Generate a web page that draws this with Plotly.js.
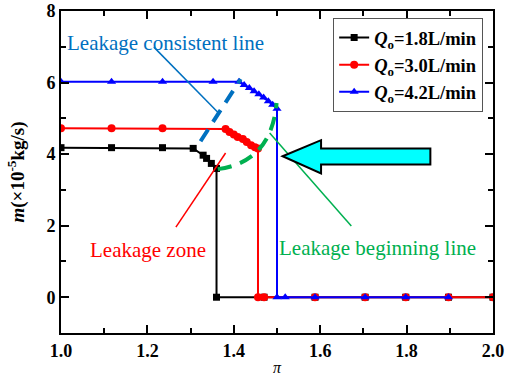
<!DOCTYPE html>
<html>
<head>
<meta charset="utf-8">
<script src="https://cdn.plot.ly/plotly-3.0.1.min.js"></script>
<style>html,body{margin:0;padding:0;background:#fff;}#chart{width:510px;height:379px;}</style>
</head>
<body>
<div id="chart"></div>
<script>
// Q_o = 1.8 L/min
const xBlack = [1.0, 1.117, 1.235, 1.306, 1.329, 1.337, 1.348, 1.36, 1.36, 1.47, 1.588, 1.704, 1.798, 1.897, 2.0];
const yBlack = [4.18, 4.18, 4.18, 4.16, 3.97, 3.88, 3.74, 3.6, 0, 0, 0, 0, 0, 0, 0];
// Q_o = 3.0 L/min
const xRed = [1.0, 1.117, 1.235, 1.381, 1.390, 1.400, 1.409, 1.421, 1.430, 1.440, 1.449, 1.456, 1.456, 1.47, 1.588, 1.704, 1.798, 1.897, 2.0];
const yRed = [4.72, 4.72, 4.72, 4.70, 4.62, 4.55, 4.48, 4.42, 4.34, 4.25, 4.19, 4.16, 0, 0, 0, 0, 0, 0, 0];
// Q_o = 4.2 L/min
const xBlue = [1.0, 1.117, 1.235, 1.352, 1.412, 1.424, 1.436, 1.447, 1.458, 1.469, 1.48, 1.49, 1.5, 1.5, 1.519, 1.588, 1.704, 1.798, 1.897];
const yBlue = [6.02, 6.02, 6.02, 6.02, 6.02, 5.93, 5.85, 5.76, 5.67, 5.58, 5.48, 5.38, 5.27, 0, 0, 0, 0, 0, 0];
const seriesNames = ['<i>Q</i><sub>o</sub>=1.8L/min', '<i>Q</i><sub>o</sub>=3.0L/min', '<i>Q</i><sub>o</sub>=4.2L/min'];
const xTickVals = [1.0, 1.2, 1.4, 1.6, 1.8, 2.0];
const xTickText = ['1.0', '1.2', '1.4', '1.6', '1.8', '2.0'];
const yTickVals = [0, 2, 4, 6, 8];
const yTickText = ['0', '2', '4', '6', '8'];

const serif = '"Liberation Serif", "Times New Roman", serif';
const traces = [
  {x: xBlack, y: yBlack, name: seriesNames[0], mode: 'lines+markers', line: {color: '#000000', width: 2}, marker: {symbol: 'square', size: 7, color: '#000000'}},
  {x: xRed, y: yRed, name: seriesNames[1], mode: 'lines+markers', line: {color: '#ff0000', width: 2}, marker: {symbol: 'circle', size: 8, color: '#ff0000'}},
  {x: xBlue, y: yBlue, name: seriesNames[2], mode: 'lines+markers', line: {color: '#0000ff', width: 2}, marker: {symbol: 'triangle-up', size: 8, color: '#0000ff'}}
];

const axisCommon = {
  showline: true, linecolor: '#000', linewidth: 2, mirror: 'ticks',
  ticks: 'inside', ticklen: 8, tickwidth: 2, tickcolor: '#000',
  showgrid: false, zeroline: false,
  tickfont: {family: serif, size: 18, color: '#000', weight: 'bold'}
};

const layout = {
  width: 510, height: 379,
  margin: {l: 61, r: 17, t: 11, b: 46},
  paper_bgcolor: '#fff', plot_bgcolor: '#fff',
  font: {family: serif, color: '#000', size: 16},
  xaxis: Object.assign({}, axisCommon, {
    range: [1, 2], tickmode: 'array', tickvals: xTickVals, ticktext: xTickText,
    minor: {dtick: 0.1, ticks: 'inside', ticklen: 5, tickwidth: 2, tickcolor: '#000', showgrid: false},
    title: {text: '<i>π</i>', font: {family: serif, size: 16, color: '#000'}, standoff: 2}
  }),
  yaxis: Object.assign({}, axisCommon, {
    range: [-1, 8], tickmode: 'array', tickvals: yTickVals, ticktext: yTickText,
    minor: {dtick: 1, ticks: 'inside', ticklen: 5, tickwidth: 2, tickcolor: '#000', showgrid: false},
    title: {text: '<i>m</i>(×10<sup>-5</sup>kg/s)', font: {family: serif, size: 19, color: '#000', weight: 'bold'}, standoff: 17}
  }),
  showlegend: true,
  legend: {
    x: 0.63, y: 0.978, xanchor: 'left', yanchor: 'top',
    bgcolor: '#fff', bordercolor: '#555', borderwidth: 1,
    font: {family: serif, size: 18.5, color: '#000', weight: 'bold'},
    tracegroupgap: 0
  },
  shapes: [
    {type: 'line', xref: 'x', yref: 'y', x0: 1.323, y0: 4.36, x1: 1.416, y1: 6.10, line: {color: 'rgb(0,112,192)', width: 4, dash: '14px,9px'}},
    {type: 'line', xref: 'x', yref: 'y', x0: 1.215, y0: 6.99, x1: 1.363, y1: 5.17, line: {color: 'rgb(0,112,192)', width: 1.5}},
    {type: 'path', xref: 'x', yref: 'y', path: 'M 1.363,3.58 Q 1.487,3.78 1.499,5.43', line: {color: 'rgb(0,176,80)', width: 4, dash: '14px,9px'}},
    {type: 'line', xref: 'x', yref: 'y', x0: 1.483, y0: 4.59, x1: 1.672, y1: 1.99, line: {color: 'rgb(0,176,80)', width: 1.5}},
    {type: 'line', xref: 'x', yref: 'y', x0: 1.381, y0: 4.03, x1: 1.266, y1: 1.96, line: {color: '#ff0000', width: 1.5}},
    {type: 'path', xref: 'x', yref: 'y', path: 'M 1.513,3.94 L 1.602,4.39 L 1.602,4.16 L 1.855,4.16 L 1.855,3.71 L 1.602,3.71 L 1.602,3.46 Z', fillcolor: '#00ffff', line: {color: '#000', width: 2}}
  ],
  annotations: [
    {xref: 'x', yref: 'y', x: 1.009, y: 7.11, xanchor: 'left', yanchor: 'middle', showarrow: false, text: 'Leakage consistent line', font: {family: serif, size: 21, color: 'rgb(0,112,192)'}},
    {xref: 'x', yref: 'y', x: 1.062, y: 1.31, xanchor: 'left', yanchor: 'middle', showarrow: false, text: 'Leakage zone', font: {family: serif, size: 21, color: '#ff0000'}},
    {xref: 'x', yref: 'y', x: 1.501, y: 1.37, xanchor: 'left', yanchor: 'middle', showarrow: false, text: 'Leakage beginning line', font: {family: serif, size: 21, color: 'rgb(0,176,80)'}}
  ]
};

Plotly.newPlot('chart', traces, layout, {staticPlot: true, displayModeBar: false});
</script>
</body>
</html>
